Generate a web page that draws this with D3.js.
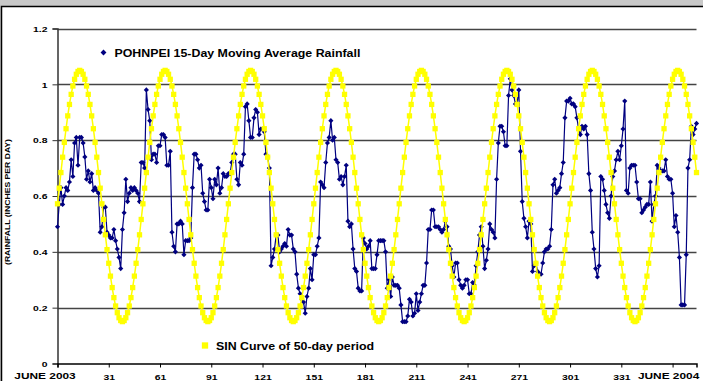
<!DOCTYPE html>
<html>
<head>
<meta charset="utf-8">
<script src="https://cdn.jsdelivr.net/npm/d3@7"></script>
<style>
  html, body { margin: 0; padding: 0; background: #c8c8c8; }
  svg { display: block; font-family: Arial, "Liberation Sans", sans-serif; font-weight: bold; }
</style>
</head>
<body>
<svg id="chart" width="703" height="381"></svg>
<script>
// 15-day moving average rainfall, one value per day starting June 2003
const rainfall = [
  0.49,0.57,0.63,0.57,0.60,0.63,0.62,0.65,0.73,0.67,
  0.79,0.81,0.71,0.81,0.81,0.79,0.74,0.66,0.69,0.65,
  0.68,0.62,0.63,0.62,0.61,0.47,0.49,0.56,0.56,0.47,
  0.46,0.45,0.45,0.48,0.44,0.41,0.38,0.34,0.48,0.54,
  0.66,0.58,0.61,0.63,0.62,0.63,0.62,0.61,0.58,0.72,
  0.72,0.70,0.98,0.91,0.87,0.73,0.75,0.75,0.72,0.78,
  0.78,0.82,0.82,0.81,0.71,0.71,0.76,0.47,0.42,0.40,
  0.50,0.50,0.51,0.50,0.39,0.44,0.44,0.44,0.45,0.63,
  0.75,0.75,0.73,0.70,0.71,0.61,0.58,0.55,0.55,0.66,
  0.63,0.59,0.66,0.64,0.70,0.61,0.63,0.68,0.67,0.67,
  0.68,0.68,0.72,0.75,0.75,0.66,0.64,0.72,0.71,0.75,
  0.92,0.93,0.87,0.81,0.81,0.88,0.91,0.90,0.82,0.84,
  0.84,0.83,0.75,0.74,0.70,0.35,0.38,0.41,0.46,0.46,
  0.40,0.41,0.42,0.43,0.42,0.48,0.46,0.46,0.41,0.40,
  0.32,0.27,0.25,0.23,0.22,0.18,0.24,0.27,0.34,0.30,
  0.39,0.39,0.42,0.45,0.65,0.64,0.63,0.72,0.79,0.81,
  0.87,0.80,0.81,0.73,0.72,0.66,0.67,0.64,0.67,0.71,
  0.51,0.49,0.50,0.41,0.34,0.33,0.27,0.26,0.26,0.45,
  0.43,0.41,0.42,0.44,0.34,0.34,0.34,0.39,0.44,0.44,
  0.44,0.44,0.40,0.27,0.30,0.24,0.31,0.28,0.28,0.28,
  0.27,0.21,0.15,0.15,0.15,0.17,0.23,0.22,0.17,0.18,
  0.25,0.19,0.22,0.25,0.28,0.28,0.36,0.48,0.48,0.55,
  0.55,0.49,0.49,0.49,0.48,0.47,0.48,0.51,0.49,0.42,
  0.41,0.35,0.31,0.36,0.36,0.30,0.28,0.27,0.28,0.30,
  0.30,0.25,0.25,0.29,0.28,0.35,0.40,0.46,0.49,0.42,
  0.34,0.37,0.41,0.50,0.48,0.47,0.45,0.66,0.79,0.85,
  0.85,0.83,0.78,0.78,0.96,1.02,0.98,0.96,0.93,0.93,
  0.98,0.76,0.58,0.52,0.49,0.45,0.51,0.50,0.33,0.35,
  0.36,0.33,0.32,0.32,0.36,0.40,0.41,0.41,0.42,0.48,
  0.64,0.66,0.61,0.62,0.63,0.68,0.72,0.88,0.94,0.94,
  0.95,0.93,0.93,0.92,0.88,0.84,0.82,0.85,0.84,0.85,
  0.82,0.68,0.62,0.47,0.41,0.34,0.31,0.35,0.67,0.66,
  0.62,0.57,0.54,0.52,0.60,0.67,0.69,0.73,0.76,0.73,
  0.78,0.84,0.94,0.62,0.61,0.70,0.71,0.71,0.71,0.65,
  0.59,0.59,0.54,0.55,0.56,0.57,0.57,0.65,0.51,0.57,
  0.60,0.71,0.70,0.69,0.69,0.69,0.73,0.67,0.66,0.66,
  0.61,0.49,0.53,0.47,0.38,0.21,0.21,0.21,0.39,0.70,
  0.73,0.85,0.82,0.84,0.86
];

// one 50-day period of the reference sine curve, starting at its crest
const sinCycle = [
  1.050,1.046,1.036,1.018,0.994,0.964,0.928,0.887,0.841,0.792,
  0.739,0.684,0.628,0.572,0.516,0.461,0.408,0.359,0.313,0.272,
  0.236,0.206,0.182,0.164,0.154,0.150,0.154,0.164,0.182,0.206,
  0.236,0.272,0.313,0.359,0.408,0.461,0.516,0.572,0.628,0.684,
  0.739,0.792,0.841,0.887,0.928,0.964,0.994,1.018,1.036,1.046
];
const sinCrestDay = 14;

const tickDays = [1, 31, 61, 91, 121, 151, 181, 211, 241, 271, 301, 331, 361];
const tickLabels = ['JUNE 2003', '31', '61', '91', '121', '151', '181', '211', '241', '271', '301', '331', 'JUNE 2004'];
const yTicks = [0, 0.2, 0.4, 0.6, 0.8, 1, 1.2];
const yTickLabels = ['0', '0.2', '0.4', '0.6', '0.8', '1', '1.2'];
const seriesNames = ['POHNPEI 15-Day Moving Average Rainfall', 'SIN Curve of 50-day period'];
const yTitle = '(RAINFALL (INCHES PER DAY)';

const days = d3.range(1, rainfall.length + 1);
const rainPts = days.map((d, i) => ({day: d, v: rainfall[i]}));
const sinPts = days.map(d => ({day: d, v: sinCycle[(((d - sinCrestDay) % 50) + 50) % 50]}));

const margin = {left: 57.5, right: 6.5, top: 28.5, bottom: 17.5};
const W = 703, H = 381;

const svg = d3.select('#chart');

// chart area (white, thin black frame at top/left)
svg.append('rect')
  .attr('x', 1.5).attr('y', 6.5)
  .attr('width', W + 10).attr('height', H + 10)
  .attr('fill', '#fff').attr('stroke', '#000').attr('stroke-width', 1.5);

const x = d3.scaleLinear().domain([1, 375]).range([margin.left, W - margin.right]);
const y = d3.scaleLinear().domain([0, 1.2]).range([H - margin.bottom, margin.top]);

// gridlines
svg.append('g')
  .selectAll('line')
  .data(yTicks.filter(t => t > 0))
  .join('line')
  .attr('x1', x(1)).attr('x2', x(375))
  .attr('y1', d => Math.round(y(d)) + 0.5).attr('y2', d => Math.round(y(d)) + 0.5)
  .attr('stroke', '#444').attr('stroke-width', 1.4);

// y axis
const yAxis = svg.append('g')
  .attr('transform', `translate(${x(1)},0)`)
  .call(d3.axisLeft(y).tickValues(yTicks).tickSize(5).tickPadding(0)
    .tickFormat((d, i) => yTickLabels[i]));
yAxis.select('.domain').attr('stroke', '#333').attr('stroke-width', 1.5);
yAxis.selectAll('.tick line').attr('stroke', '#333');
yAxis.selectAll('.tick text')
  .attr('x', 0).attr('dy', '0.34em')
  .attr('transform', 'translate(-10,0) scale(1.3,1)')
  .attr('font-size', 8).attr('font-family', 'Arial, "Liberation Sans", sans-serif')
  .attr('font-weight', 'bold').attr('fill', '#000');

// x axis
const xAxis = svg.append('g')
  .attr('transform', `translate(0,${y(0)})`)
  .call(d3.axisBottom(x).tickValues(tickDays).tickSize(4).tickPadding(0)
    .tickFormat((d, i) => tickLabels[i]));
xAxis.select('.domain').attr('stroke', '#000').attr('stroke-width', 1.5);
xAxis.selectAll('.tick line').attr('stroke', '#000');
xAxis.selectAll('.tick text')
  .attr('y', 0).attr('dy', 0)
  .attr('font-family', 'Arial, "Liberation Sans", sans-serif')
  .attr('font-weight', 'bold').attr('fill', '#000')
  .attr('font-size', (d, i) => tickLabels[i].length > 3 ? 9.5 : 8)
  .attr('transform', (d, i) => {
    if (i === 0) return 'translate(-13,15.5) scale(1.25,1)';
    if (i === tickDays.length - 1) return 'translate(-4.5,15.5) scale(1.25,1)';
    return 'translate(0,16.5) scale(1.3,1)';
  });

// y axis title
svg.append('text')
  .attr('transform', `translate(10,${(y(0) + y(1.2)) / 2 + 6}) rotate(-90) scale(1.15,1)`)
  .attr('text-anchor', 'middle')
  .attr('font-size', 7.5)
  .text(yTitle);

// rainfall series
svg.append('path')
  .datum(rainPts)
  .attr('fill', 'none').attr('stroke', '#000080').attr('stroke-width', 1.2)
  .attr('d', d3.line().x(d => x(d.day)).y(d => y(d.v)));
svg.append('g')
  .selectAll('path')
  .data(rainPts)
  .join('path')
  .attr('transform', d => `translate(${x(d.day)},${y(d.v)})`)
  .attr('d', d3.symbol(d3.symbolDiamond2, 17))
  .attr('fill', '#000080');

// sine series
svg.append('path')
  .datum(sinPts)
  .attr('fill', 'none').attr('stroke', '#ffff00').attr('stroke-width', 1.5)
  .attr('d', d3.line().x(d => x(d.day)).y(d => y(d.v)));
svg.append('g')
  .selectAll('path')
  .data(sinPts)
  .join('path')
  .attr('transform', d => `translate(${x(d.day)},${y(d.v)})`)
  .attr('d', d3.symbol(d3.symbolSquare, 28))
  .attr('fill', '#ffff00');

// legend entries
const legend = [
  {name: seriesNames[0], sx: 103.5, sy: 52.5, sym: d3.symbol(d3.symbolDiamond2, 22)(), color: '#000080'},
  {name: seriesNames[1], sx: 205, sy: 345.5, sym: d3.symbol(d3.symbolSquare, 40)(), color: '#ffff00'}
];
const lg = svg.append('g').selectAll('g').data(legend).join('g')
  .attr('transform', d => `translate(${d.sx},${d.sy})`);
lg.append('path').attr('d', d => d.sym).attr('fill', d => d.color);
lg.append('text')
  .attr('x', 0).attr('y', 0).attr('dy', '0.35em')
  .attr('transform', 'translate(11,0) scale(1.05,1)')
  .attr('font-size', 11.8)
  .attr('fill', '#000')
  .text(d => d.name);
</script>
</body>
</html>
